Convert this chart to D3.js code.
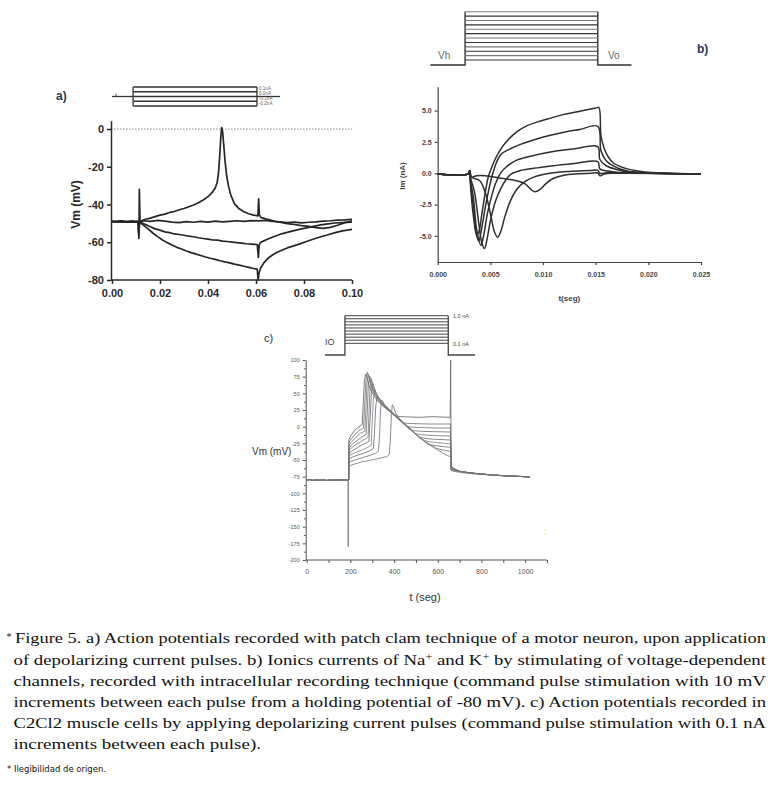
<!DOCTYPE html>
<html><head><meta charset="utf-8">
<script src="https://cdn.jsdelivr.net/npm/d3@7"></script>
<style>body{margin:0;background:#fff}svg{display:block}
.cap{font-family:"Liberation Serif","DejaVu Serif","Times New Roman",serif;}</style>
</head><body>
<svg id="fig" width="771" height="794"></svg>
<script>
// ---------------- DATA ----------------
// Panel a: membrane potential (mV) vs time (s), 4 current steps
const aStimLevels = [0.2, 0.1, 0, -0.1, -0.2];
const aStimTimes = [0, 0.0088, 0.0604, 0.07];
const aStimLabels = ["0.1nA", "0.0nA", "-0.1nA", "-0.2nA"];
const aXTicks = [0, 0.02, 0.04, 0.06, 0.08, 0.10];
const aYTicks = [0, -20, -40, -60, -80];
const aTracePos = [[0,-48.8],[0.002,-49.3],[0.004,-48.7],[0.006,-49.2],[0.008,-48.9],[0.010,-49.4],[0.0108,-49],[0.0112,-58],[0.0114,-32],[0.0117,-50],[0.0125,-48.5],[0.014,-47.8],[0.016,-47.2],[0.018,-46.4],[0.020,-45.6],[0.022,-45.1],[0.024,-44.2],[0.026,-43.7],[0.028,-42.8],[0.030,-42.1],[0.032,-41.2],[0.034,-40.3],[0.036,-39.1],[0.038,-37.6],[0.040,-35.8],[0.041,-34.6],[0.042,-33.2],[0.043,-31.3],[0.0438,-28.5],[0.0444,-23],[0.0449,-14],[0.0453,-5],[0.0457,0.8],[0.0461,-1.5],[0.0466,-9],[0.0471,-17],[0.0477,-24],[0.0485,-30],[0.0495,-35],[0.051,-39.5],[0.053,-42.3],[0.055,-43.8],[0.057,-44.9],[0.059,-45.6],[0.0608,-46],[0.0611,-37],[0.0614,-45.5],[0.062,-46.8],[0.064,-47.6],[0.066,-48.2],[0.068,-48.9],[0.070,-49.4],[0.073,-50.1],[0.076,-50.6],[0.079,-51.2],[0.082,-51.6],[0.085,-52.3],[0.088,-52.6],[0.091,-52.1],[0.094,-51],[0.097,-49.6],[0.100,-48.6]];
const aTraceZero = [[0,-49.2],[0.003,-48.8],[0.006,-49.3],[0.009,-48.9],[0.0112,-49.1],[0.0115,-49.6],[0.013,-48.6],[0.016,-48.9],[0.019,-48.4],[0.022,-48.8],[0.025,-49.3],[0.028,-49.6],[0.031,-49.1],[0.034,-49.4],[0.037,-48.9],[0.040,-49.3],[0.043,-48.8],[0.046,-49.2],[0.049,-48.9],[0.052,-48.6],[0.055,-48.9],[0.058,-48.5],[0.061,-48.7],[0.064,-48.4],[0.067,-48.9],[0.070,-49.2],[0.073,-49.6],[0.076,-49.3],[0.079,-49.7],[0.082,-49.4],[0.085,-49.2],[0.088,-48.8],[0.091,-48.6],[0.094,-48.3],[0.097,-48.1],[0.100,-47.8]];
const aTraceNeg1 = [[0,-49],[0.004,-49.3],[0.008,-48.8],[0.0112,-49.2],[0.0125,-49.8],[0.014,-50.6],[0.016,-51.8],[0.018,-52.9],[0.020,-53.6],[0.022,-54.5],[0.024,-54.9],[0.026,-55.6],[0.028,-55.9],[0.030,-56.3],[0.032,-56.8],[0.034,-57.1],[0.036,-57.6],[0.038,-58.0],[0.040,-58.3],[0.042,-58.8],[0.044,-58.9],[0.046,-59.4],[0.048,-59.6],[0.050,-59.9],[0.052,-60.2],[0.054,-60.5],[0.056,-60.8],[0.058,-61.0],[0.0605,-61.2],[0.061,-68],[0.0613,-61.5],[0.0618,-60.2],[0.063,-59.4],[0.065,-58.3],[0.067,-57.2],[0.069,-56.3],[0.071,-55.4],[0.073,-54.8],[0.075,-54.1],[0.078,-53.2],[0.081,-52.4],[0.084,-51.6],[0.087,-50.8],[0.090,-50.3],[0.093,-49.8],[0.096,-49.6],[0.100,-49.4]];
const aTraceNeg2 = [[0,-49.1],[0.004,-48.8],[0.008,-49.3],[0.0108,-49],[0.0112,-56],[0.0115,-49.5],[0.013,-50.8],[0.015,-52.9],[0.017,-55.1],[0.019,-57.0],[0.021,-58.8],[0.023,-60.2],[0.025,-61.5],[0.027,-62.7],[0.029,-63.6],[0.031,-64.6],[0.033,-65.5],[0.035,-66.3],[0.037,-67.0],[0.039,-67.8],[0.041,-68.5],[0.043,-69.1],[0.045,-69.8],[0.047,-70.4],[0.049,-70.9],[0.051,-71.6],[0.053,-72.1],[0.055,-72.7],[0.057,-73.3],[0.059,-73.9],[0.0605,-74.2],[0.0609,-80],[0.0613,-76],[0.062,-73.5],[0.0635,-70.5],[0.065,-68.5],[0.067,-66.6],[0.069,-65.2],[0.071,-64.1],[0.073,-63.0],[0.075,-62.2],[0.078,-61.0],[0.081,-59.6],[0.084,-58.3],[0.087,-57.1],[0.090,-56.0],[0.093,-54.9],[0.096,-54.0],[0.100,-53.2]];
const aTraces = [aTracePos, aTraceZero, aTraceNeg1, aTraceNeg2];

// Panel b: ionic currents (nA) vs time (s), 6 voltage steps
const bStepLevels = [-70,-60,-50,-40,-30,-20,-10,0,10,20,30,40];
const bStimTimes = [-0.0007, 0.0026, 0.0152, 0.0184];
const bXTicks = [0, 0.005, 0.010, 0.015, 0.020, 0.025];
const bYTicks = [5, 2.5, 0, -2.5, -5];
const bT1 = [[0,-0.05],[0.0029,-0.05],[0.00305,0.25],[0.0032,-0.3],[0.0037,-0.2],[0.0045,-0.2],[0.006,-0.4],[0.0075,-0.6],[0.0083,-0.85],[0.0088,-1.25],[0.0092,-1.47],[0.0097,-1.3],[0.0103,-0.8],[0.011,-0.4],[0.012,-0.15],[0.013,-0.05],[0.0145,0],[0.0152,0.02],[0.0154,-0.2],[0.0158,-0.05],[0.017,0],[0.025,-0.05]];
const bT2 = [[0,-0.05],[0.0029,-0.05],[0.00305,0.2],[0.0032,-0.3],[0.004,-0.6],[0.0045,-1.5],[0.005,-3.2],[0.0054,-4.7],[0.0057,-5.1],[0.006,-4.6],[0.0064,-3.4],[0.0069,-2.2],[0.0075,-1.3],[0.0082,-0.7],[0.009,-0.35],[0.010,-0.1],[0.011,0.05],[0.0125,0.15],[0.0145,0.22],[0.0152,0.25],[0.0154,0.0],[0.016,0.05],[0.018,0.02],[0.025,-0.05]];
const bT3 = [[0,-0.05],[0.0029,-0.05],[0.00305,0.2],[0.0031,-0.3],[0.0035,-1.5],[0.0039,-4],[0.0042,-5.6],[0.00445,-6.0],[0.0047,-5.2],[0.005,-3.8],[0.0055,-2.2],[0.006,-1.2],[0.0065,-0.5],[0.007,-0.05],[0.008,0.25],[0.0091,0.4],[0.010,0.5],[0.0115,0.65],[0.013,0.78],[0.0152,0.92],[0.0154,0.35],[0.016,0.2],[0.017,0.08],[0.019,0.02],[0.025,-0.05]];
const bT4 = [[0,-0.05],[0.0029,-0.05],[0.00305,0.2],[0.0031,-0.5],[0.0034,-2],[0.0037,-4.5],[0.0041,-5.75],[0.0044,-4.8],[0.0047,-3.3],[0.005,-2.2],[0.0055,-0.8],[0.006,0.05],[0.0065,0.5],[0.0075,1.05],[0.0085,1.3],[0.0107,1.7],[0.013,1.95],[0.0152,2.12],[0.0154,1.1],[0.016,0.6],[0.017,0.3],[0.018,0.12],[0.02,0.03],[0.025,-0.05]];
const bT5 = [[0,-0.05],[0.0029,-0.05],[0.00305,0.2],[0.0031,-0.6],[0.0034,-2.8],[0.0037,-5],[0.0039,-5.4],[0.0042,-4.3],[0.0045,-2.8],[0.0048,-1.5],[0.0052,-0.1],[0.0056,0.9],[0.006,1.5],[0.007,2.0],[0.008,2.35],[0.0091,2.66],[0.0105,3.0],[0.0122,3.32],[0.0135,3.5],[0.0152,3.75],[0.0155,1.8],[0.016,1.0],[0.017,0.45],[0.018,0.18],[0.0195,0.05],[0.025,-0.05]];
const bT6 = [[0,-0.05],[0.0029,-0.05],[0.00305,0.2],[0.0031,-0.8],[0.0034,-3.5],[0.0037,-4.9],[0.0039,-4.7],[0.0042,-3.2],[0.0045,-1.6],[0.0048,-0.3],[0.005,0.2],[0.0055,1.2],[0.006,1.95],[0.0065,2.5],[0.0075,3.3],[0.0085,3.8],[0.0095,4.1],[0.0107,4.4],[0.012,4.7],[0.0135,4.95],[0.015,5.2],[0.0153,5.25],[0.0155,3.0],[0.0158,2.0],[0.0162,1.3],[0.0167,0.8],[0.0173,0.55],[0.018,0.35],[0.019,0.18],[0.02,0.08],[0.022,0.0],[0.025,-0.05]];
const bTraces = [bT1, bT2, bT3, bT4, bT5, bT6];

// Panel c: membrane potential (mV) vs time, 10 current steps 0.1..1.0 nA
const cStepLevels = [0.1,0.2,0.3,0.4,0.5,0.6,0.7,0.8,0.9,1.0];
const cStimTimes = [84, 175, 648, 770];
const cXTicks = [0,100,200,300,400,500,600,700,800,900,1000,1100];
const cXLabels = [0,200,400,600,800,1000];
const cYTicks = [100,75,50,25,0,-25,-50,-75,-100,-125,-150,-175,-200];
const cPre = [[0,-80],[15,-79.3],[30,-80.6],[45,-79.8],[60,-80.4],[75,-79.5],[90,-80.7],[105,-79.9],[120,-80.5],[135,-79.6],[150,-80.3],[165,-79.7],[180,-80.4],[189,-80]];
const cTail = [[670,-64],[700,-67],[750,-69.5],[800,-71],[850,-72.5],[900,-73.5],[950,-74.3],[1000,-75],[1020,-75.5]];
const c0 = [[190,-180],[191.5,-80],[193,-62],[200,-58],[220,-56],[250,-53],[280,-51],[310,-49],[340,-47],[365,-45],[378,-42],[383,-20],[388,20],[392,33],[397,30],[405,22],[420,14],[440,7],[460,1],[480,-5],[500,-11],[520,-17],[540,-22],[560,-27],[580,-31],[600,-35],[620,-39],[640,-43],[658,-45],[661,-66],[670,-66.5],[700,-68.5],[750,-70.5],[800,-71.8]];
const c1 = [[192,-80],[193,-56],[200,-52],[230,-49],[260,-46],[290,-43],[315,-40],[328,-37],[333,-15],[338,25],[343,40],[348,38],[356,33],[370,28],[390,22],[410,16],[430,10],[450,4],[470,-2],[490,-8],[510,-14],[530,-19],[550,-24],[570,-28],[590,-32],[610,-34],[630,-35.5],[658,-37],[661,-65],[670,-66]];
const c2 = [[192,-80],[193,-51],[200,-47],[230,-43],[260,-40],[290,-36],[305,-33],[310,-10],[316,30],[322,46],[328,44],[338,38],[352,33],[370,27],[390,21],[410,15],[430,9],[450,3],[470,-3],[490,-9],[510,-15],[530,-20],[550,-25],[570,-27.5],[600,-29],[630,-30],[658,-31],[661,-64.5],[670,-65.5]];
const c3 = [[192,-80],[193,-46],[200,-42],[230,-38],[260,-34],[285,-30],[295,-28],[299,0],[305,40],[311,55],[317,52],[327,45],[342,38],[360,31],[380,25],[400,19],[420,13],[440,7],[460,1],[480,-5],[500,-11],[520,-17],[540,-21],[570,-23],[600,-24],[630,-25],[658,-26],[661,-63.5],[670,-65]];
const c4 = [[192,-80],[193,-42],[200,-38],[225,-33],[250,-28],[275,-24],[285,-22],[290,10],[296,50],[302,65],[308,60],[318,50],[332,42],[350,35],[370,28],[390,22],[410,16],[430,10],[450,4],[470,-2],[490,-8],[505,-13],[520,-16],[550,-18],[590,-19],[630,-19.5],[658,-20],[661,-63],[670,-64.5]];
const c5 = [[192,-80],[193,-37],[200,-33],[225,-27],[250,-22],[275,-17],[281,-15],[285,20],[290,60],[296,72],[302,66],[312,54],[326,45],[345,36],[365,29],[385,23],[405,17],[425,11],[445,5],[465,-1],[485,-7],[495,-10],[520,-12],[560,-13],[600,-13.5],[658,-14],[661,-62],[670,-64]];
const c6 = [[192,-80],[193,-33],[200,-29],[225,-22],[250,-16],[272,-12],[277,20],[282,62],[288,76],[294,70],[304,57],[318,47],[336,38],[356,31],[376,25],[396,19],[416,13],[436,7],[456,1],[470,-4],[490,-6],[530,-7],[580,-7.5],[658,-8],[661,-61],[670,-63.5]];
const c7 = [[192,-80],[193,-29],[200,-25],[222,-17],[245,-10],[266,-7],[271,25],[276,66],[282,79],[288,73],[298,60],[312,49],[330,40],[350,32],[370,26],[390,20],[410,14],[430,8],[446,3],[460,0],[490,-1],[540,-1.5],[600,-2],[658,-2],[661,-60],[670,-63]];
const c8 = [[192,-80],[193,-24],[200,-20],[220,-12],[240,-6],[260,-2],[265,30],[271,70],[277,82],[283,76],[292,63],[306,51],[324,42],[344,34],[364,28],[384,22],[404,16],[424,10],[440,6],[460,5],[500,4.5],[560,4],[620,4],[658,4],[661,-59],[670,-62.5]];
const c9 = [[192,-80],[193,-20],[200,-15],[215,-7],[235,-1],[254,3],[259,35],[264,68],[270,79],[276,74],[285,62],[298,52],[315,43],[335,35],[355,29],[375,24],[395,19],[410,16],[430,15],[470,14.5],[520,14],[570,15],[620,14.5],[657,14],[659,100],[661,-58],[670,-62]];
const cTraces = [c0,c1,c2,c3,c4,c5,c6,c7,c8,c9];

const captionLines = [
  "Figure 5. a) Action potentials recorded with patch clam technique of a motor neuron, upon application",
  "of depolarizing current pulses. b) Ionics currents of Na^+ and K^+ by stimulating of voltage-dependent",
  "channels, recorded with intracellular recording technique (command pulse stimulation with 10 mV",
  "increments between each pulse from a holding potential of -80 mV). c) Action potentials recorded in",
  "C2Cl2 muscle cells by applying depolarizing current pulses (command pulse stimulation with 0.1 nA",
  "increments between each pulse)."
];
const footnote = "* Ilegibilidad de origen.";

// ---------------- DRAWING ----------------
const svg = d3.select('#fig');
const SANS = "'Liberation Sans', Arial, sans-serif";
const LABEL = "#27344f";

function styleAxis(g, color, sw, fs, fw) {
  g.attr('font-family', SANS).attr('font-size', fs).attr('font-weight', fw);
  g.selectAll('path.domain').attr('stroke', color).attr('stroke-width', sw);
  g.selectAll('.tick line').attr('stroke', color).attr('stroke-width', sw);
  g.selectAll('.tick text').attr('fill', color);
}

// ===== Panel a =====
const xA = d3.scaleLinear().domain([0, 0.1]).range([112, 352]);
const yA = d3.scaleLinear().domain([4.4, -80]).range([120.7, 280]);
const gA = svg.append('g');
gA.append('line').attr('x1', xA(0) - 1).attr('x2', xA(0.1)).attr('y1', yA(0)).attr('y2', yA(0))
  .attr('stroke', '#888').attr('stroke-width', 1).attr('stroke-dasharray', '1.5,1.5');
const axAx = gA.append('g').attr('transform', `translate(0,${yA(-80)})`)
  .call(d3.axisBottom(xA).tickValues(aXTicks).tickFormat(d => d.toFixed(2)).tickSize(4).tickSizeOuter(0).tickPadding(5));
styleAxis(axAx, '#2a2a2a', 1.5, 11, 'bold');
axAx.select('path.domain').attr('d', `M${xA(0)-1},0H${xA(0.1)}`);
const axAy = gA.append('g').attr('transform', `translate(${xA(0)-1},0)`)
  .call(d3.axisLeft(yA).tickValues(aYTicks).tickFormat(d => String(d)).tickSize(4).tickSizeOuter(0).tickPadding(3));
styleAxis(axAy, '#2a2a2a', 1.5, 11, 'bold');
const lineA = d3.line().x(d => xA(d[0])).y(d => yA(d[1]));
gA.selectAll('path.trace').data(aTraces).join('path').attr('class', 'trace')
  .attr('d', lineA).attr('fill', 'none').attr('stroke', '#262626').attr('stroke-width', 1.7).attr('stroke-linejoin', 'round');
gA.append('text').attr('transform', `translate(80,${yA(-40)}) rotate(-90)`).attr('text-anchor', 'middle')
  .attr('font-family', SANS).attr('font-size', 12).attr('font-weight', 'bold').attr('fill', '#2a2a2a').text('Vm (mV)');
gA.append('text').attr('x', 56).attr('y', 100).attr('font-family', SANS).attr('font-size', 12)
  .attr('font-weight', 'bold').attr('fill', LABEL).text('a)');
// stimulus a
const ysA = d3.scaleLinear().domain([-0.2, 0.2]).range([106, 87]);
const gSA = gA.append('g').attr('stroke', '#333').attr('stroke-width', 1.3).attr('fill', 'none');
gSA.append('line').attr('x1', xA(aStimTimes[0])).attr('x2', xA(aStimTimes[1])).attr('y1', ysA(0)).attr('y2', ysA(0));
gSA.append('line').attr('x1', xA(aStimTimes[2])).attr('x2', xA(aStimTimes[3])).attr('y1', ysA(0)).attr('y2', ysA(0));
gSA.append('line').attr('x1', xA(0.0017)).attr('x2', xA(0.0017)).attr('y1', ysA(0) - 3).attr('y2', ysA(0)).attr('stroke-width', 0.8);
[aStimTimes[1], aStimTimes[2]].forEach(t => gSA.append('line').attr('x1', xA(t)).attr('x2', xA(t))
  .attr('y1', ysA(0.2)).attr('y2', ysA(-0.2)));
gSA.selectAll('line.lv').data(aStimLevels).join('line').attr('class', 'lv')
  .attr('x1', xA(aStimTimes[1])).attr('x2', xA(aStimTimes[2])).attr('y1', d => ysA(d)).attr('y2', d => ysA(d));
gA.selectAll('text.sl').data(aStimLabels).join('text').attr('class', 'sl')
  .attr('x', xA(aStimTimes[2]) + 2).attr('y', (d, i) => 89.5 + i * 5)
  .attr('font-family', SANS).attr('font-size', 4.6).attr('fill', '#666').text(d => d);

// ===== Panel b =====
const xB = d3.scaleLinear().domain([0, 0.025]).range([437.7, 701]);
const yB = d3.scaleLinear().domain([6.9, -7.08]).range([86.8, 262]);
const gB = svg.append('g');
const axBx = gB.append('g').attr('transform', `translate(0,${yB(-7.08)})`)
  .call(d3.axisBottom(xB).tickValues(bXTicks).tickFormat(d => d.toFixed(3)).tickSize(3).tickSizeOuter(0).tickPadding(7));
styleAxis(axBx, '#444', 1.2, 7, 'bold');
const axBy = gB.append('g').attr('transform', `translate(${xB(0)},0)`)
  .call(d3.axisLeft(yB).tickValues(bYTicks).tickFormat(d => d.toFixed(1)).tickSize(3).tickSizeOuter(0).tickPadding(3));
styleAxis(axBy, '#444', 1.2, 7, 'bold');
const lineB = d3.line().x(d => xB(d[0])).y(d => yB(d[1])).curve(d3.curveCatmullRom.alpha(0.5));
gB.selectAll('path.trace').data(bTraces).join('path').attr('class', 'trace')
  .attr('d', lineB).attr('fill', 'none').attr('stroke', '#2e2e2e').attr('stroke-width', 1.5).attr('stroke-linejoin', 'round');
gB.append('text').attr('x', xB(0.0125)).attr('y', 301).attr('text-anchor', 'middle')
  .attr('font-family', SANS).attr('font-size', 8).attr('font-weight', 'bold').attr('fill', '#444').text('t(seg)');
gB.append('text').attr('transform', `translate(405,176) rotate(-90)`).attr('text-anchor', 'middle')
  .attr('font-family', SANS).attr('font-size', 8).attr('font-weight', 'bold').attr('fill', '#444').text('Im (nA)');
gB.append('text').attr('x', 697).attr('y', 53).attr('font-family', SANS).attr('font-size', 12)
  .attr('font-weight', 'bold').attr('fill', LABEL).text('b)');
// stimulus b
const ysB = d3.scaleLinear().domain([-80, -70, 40]).range([65, 60, 11.7]);
const gSB = gB.append('g').attr('fill', 'none');
gSB.append('path').attr('stroke', '#333').attr('stroke-width', 1.4)
  .attr('d', `M${xB(bStimTimes[0])},${ysB(-80)}H${xB(bStimTimes[1])}V${ysB(40)}M${xB(bStimTimes[2])},${ysB(40)}V${ysB(-80)}H${xB(bStimTimes[3])}`);
gSB.selectAll('line').data(bStepLevels).join('line')
  .attr('x1', xB(bStimTimes[1])).attr('x2', xB(bStimTimes[2])).attr('y1', d => ysB(d)).attr('y2', d => ysB(d))
  .attr('stroke', (d, i) => i % 2 ? '#777' : '#333').attr('stroke-width', 1.1);
gB.append('text').attr('x', 438).attr('y', 59).attr('font-family', SANS).attr('font-size', 10).attr('fill', '#666').text('Vh');
gB.append('text').attr('x', 608).attr('y', 59).attr('font-family', SANS).attr('font-size', 10).attr('fill', '#666').text('Vo');

// ===== Panel c =====
const xC = d3.scaleLinear().domain([0, 1100]).range([306.7, 547]);
const yC = d3.scaleLinear().domain([100, -200]).range([360, 560]);
const gC = svg.append('g');
const axCx = gC.append('g').attr('transform', `translate(0,${yC(-200)})`)
  .call(d3.axisBottom(xC).tickValues(cXTicks).tickFormat(d => cXLabels.includes(d) ? String(d) : '').tickSize(3).tickSizeOuter(0).tickPadding(6));
styleAxis(axCx, '#555', 1, 7, 'normal');
axCx.select('path.domain').attr('d', `M${xC(0)-1},0H${xC(1100)}`);
const axCy = gC.append('g').attr('transform', `translate(${xC(0)-1},0)`)
  .call(d3.axisLeft(yC).tickValues(cYTicks).tickFormat(d => String(d)).tickSize(3).tickSizeOuter(0).tickPadding(3));
styleAxis(axCy, '#555', 1, 5.5, 'normal');
const cMinor = d3.range(-187.5, 100, 25);
gC.append('g').attr('transform', `translate(${xC(0)-1},0)`)
  .call(d3.axisLeft(yC).tickValues(cMinor).tickFormat('').tickSize(1.8).tickSizeOuter(0))
  .call(g => { g.select('path.domain').remove(); g.selectAll('line').attr('stroke', '#555'); });
const lineC = d3.line().x(d => xC(d[0])).y(d => yC(d[1]));
const cColors = ['#7f7f7f', '#8a7b8d', '#777', '#8f8f8f', '#7d7384', '#858585', '#7a7a7a', '#8c7e8e', '#808080', '#6f6f6f'];
gC.selectAll('path.trace').data(cTraces).join('path').attr('class', 'trace')
  .attr('d', d => {
    const last = d[d.length - 1][0];
    return lineC(cPre.concat(d, cTail.filter(p => p[0] > last)));
  })
  .attr('fill', 'none').attr('stroke', (d, i) => cColors[i]).attr('stroke-width', 0.9).attr('stroke-linejoin', 'round');
gC.append('text').attr('x', 425).attr('y', 601).attr('text-anchor', 'middle')
  .attr('font-family', SANS).attr('font-size', 11).attr('fill', '#333').text('t (seg)');
gC.append('text').attr('x', 252).attr('y', 455).attr('font-family', SANS).attr('font-size', 10).attr('fill', '#333').text('Vm (mV)');
gC.append('text').attr('x', 264).attr('y', 342).attr('font-family', SANS).attr('font-size', 11).attr('fill', LABEL).text('c)');
gC.append('text').attr('x', 544).attr('y', 534).attr('font-family', SANS).attr('font-size', 7).attr('fill', '#d9a000').text(':');
// stimulus c
const ysC = d3.scaleLinear().domain([0, 0.1, 1.0]).range([355, 343.3, 315.7]);
const gSC = gC.append('g').attr('fill', 'none');
gSC.append('path').attr('stroke', '#444').attr('stroke-width', 1.3)
  .attr('d', `M${xC(cStimTimes[0])},${ysC(0)}H${xC(cStimTimes[1])}V${ysC(1.0)}M${xC(cStimTimes[2])},${ysC(1.0)}V${ysC(0)}H${xC(cStimTimes[3])}`);
gSC.selectAll('line').data(cStepLevels).join('line')
  .attr('x1', xC(cStimTimes[1])).attr('x2', xC(cStimTimes[2])).attr('y1', d => ysC(d)).attr('y2', d => ysC(d))
  .attr('stroke', '#444').attr('stroke-width', 1);
gC.append('text').attr('x', 325).attr('y', 345).attr('font-family', SANS).attr('font-size', 9).attr('fill', '#444').text('IO');
gC.append('text').attr('x', 453).attr('y', 318).attr('font-family', SANS).attr('font-size', 5.5).attr('fill', '#444').text('1.0 nA');
gC.append('text').attr('x', 453).attr('y', 346).attr('font-family', SANS).attr('font-size', 5.5).attr('fill', '#444').text('0.1 nA');

// ===== Caption =====
const capBase = [643, 664.5, 686, 707, 728, 749];
const gCap = svg.append('g').attr('fill', '#111');
gCap.append('text').attr('class', 'cap').attr('x', 6.5).attr('y', 640).style('font-size', '10px').text('*');
captionLines.forEach((ln, i) => {
  const x0 = i === 0 ? 15 : 13.5;
  const t = gCap.append('text').attr('class', 'cap').attr('x', x0).attr('y', capBase[i]).style('font-size', '15.5px');
  const parts = ln.split('^+');
  parts.forEach((p, j) => {
    t.append('tspan').attr('dy', j > 0 ? 5 : null).text(p);
    if (j < parts.length - 1) t.append('tspan').attr('dy', -5).style('font-size', '10px').text('+');
  });
  const endX = i === captionLines.length - 1 ? 261 : 766;
  t.attr('textLength', endX - x0).attr('lengthAdjust', 'spacingAndGlyphs');
});
svg.append('text').attr('x', 7).attr('y', 772).attr('font-family', "'DejaVu Sans', Verdana, sans-serif")
  .attr('font-size', 8.5).attr('fill', '#111').text(footnote);
</script>
</body></html>
